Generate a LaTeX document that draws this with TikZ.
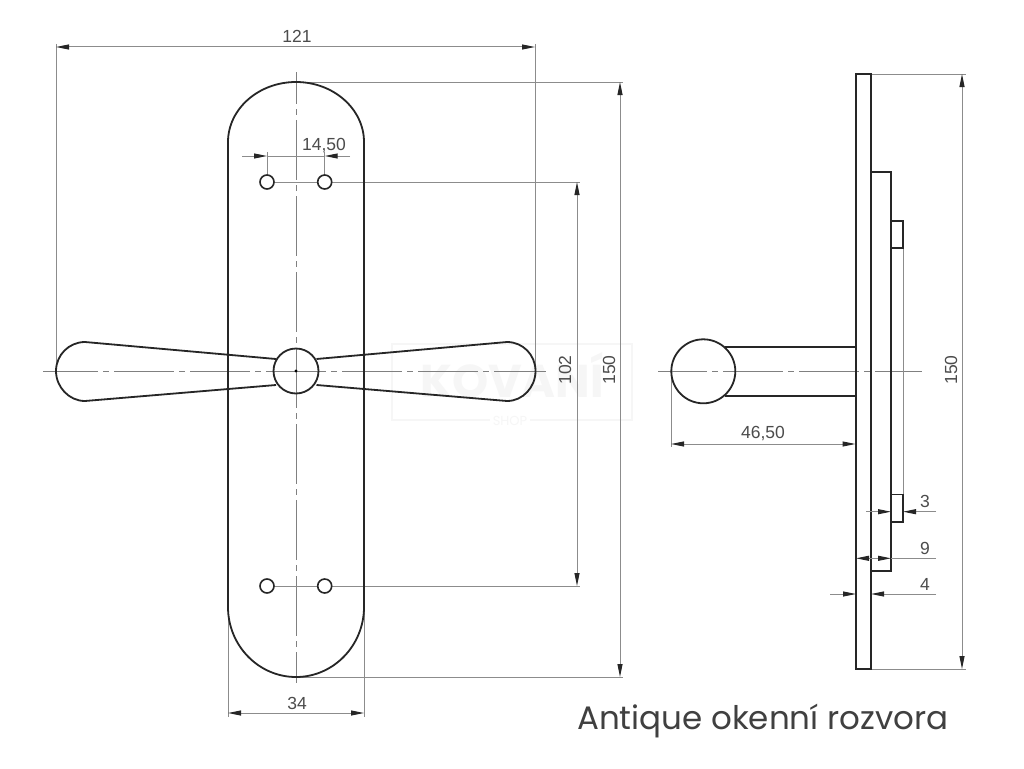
\documentclass[tikz,border=0pt]{standalone}
\usepackage{fontspec}
\setmainfont{Poppins}
\newfontfamily\dimfont{Liberation Sans}
\definecolor{dimgray}{gray}{0.55}
\definecolor{txtgray}{gray}{0.3}
\definecolor{wmark}{gray}{0.965}
\usetikzlibrary{arrows.meta}
\tikzset{
  x=1pt,y=-1pt,
  part/.style={line width=1.8pt,draw=black!85},
  ctr/.style={line width=0.9pt,draw=black!50,dash pattern=on 60pt off 5pt on 6pt off 5pt},
  dimline/.style={line width=1pt,draw=dimgray},
  tip/.style={-{Triangle[length=13pt,width=5pt,black!85]},line width=1pt,draw=dimgray},
  both/.style={{Triangle[length=13pt,width=5pt,black!85]}-{Triangle[length=13pt,width=5pt,black!85]},line width=1pt,draw=dimgray},
  lab/.style={font=\dimfont\fontsize{17.5}{18}\selectfont,text=txtgray,inner sep=0pt},
}
\begin{document}
\begin{tikzpicture}
\useasboundingbox (0,0) rectangle (1024,768);
\fill[white] (0,0) rectangle (1024,768);
% watermark
\draw[wmark,line width=2pt] (392,344) rectangle (632,420);
\node[font=\fontsize{46}{46}\selectfont\bfseries,text=wmark,inner sep=0pt] (wm) at (512,375) {KOVANÍ};
\node[font=\fontsize{13}{13}\selectfont,text=wmark,inner ysep=0pt,inner xsep=3pt,fill=white] (wms) at (510,421) {SHOP};
% centre lines
\draw[ctr,dash phase=5pt] (43,371) -- (546,371);
\draw[ctr,dash phase=28pt] (296,72) -- (296,683);
\draw[ctr,dash phase=11pt] (658,371) -- (922,371);
% extension lines front
\draw[dimline] (56,44) -- (56,371);
\draw[dimline] (535,44) -- (535,371);
\draw[dimline] (296,82) -- (623,82);
\draw[dimline] (296,677) -- (623,677);
\draw[dimline] (267,182) -- (580,182);
\draw[dimline] (267,586) -- (580,586);
\draw[dimline] (267,152) -- (267,182);
\draw[dimline] (324.7,152) -- (324.7,182);
\draw[dimline] (228,607) -- (228,717);
\draw[dimline] (364,607) -- (364,717);
% dims front
\coordinate (a1) at (56,47); \coordinate (a2) at (535,47);
\draw[both] (a1) -- (a2);
\node[lab] (t121) at (297,36) {121};
\coordinate (b1) at (620,82); \coordinate (b2) at (620,677);
\draw[both] (b1) -- (b2);
\node[lab,rotate=90] (t150a) at (609,370) {150};
\coordinate (c1) at (577,182); \coordinate (c2) at (577,586);
\draw[both] (c1) -- (c2);
\node[lab,rotate=90] (t102) at (565,370) {102};
\coordinate (d1) at (228,713); \coordinate (d2) at (364,713);
\draw[both] (d1) -- (d2);
\node[lab] (t34) at (297,703) {34};
\coordinate (e0) at (242,156); \coordinate (e1) at (267,156);
\coordinate (e2) at (324.7,156); \coordinate (e3) at (350,156);
\draw[tip] (e0) -- (e1);
\draw[dimline] (e1) -- (e2);
\draw[tip] (e3) -- (e2);
\node[lab] (t14) at (324,145.5) {14,50};
% plate
\draw[part] (228,142) .. controls (228,109) and (258.5,82) .. (296,82)
  .. controls (333.5,82) and (364,109) .. (364,142)
  -- (364,607) .. controls (364,645.5) and (333.5,677) .. (296,677)
  .. controls (258.5,677) and (228,645.5) .. (228,607) -- cycle;
% holes
\foreach \n/\hx/\hy in {h1/267/182,h2/324.7/182,h3/267/586,h4/324.7/586}
  \node[circle,draw=black!85,line width=1.6pt,fill=white,minimum size=14pt,inner sep=0pt] (\n) at (\hx,\hy) {};
% handles
\draw[part] (276,359) -- (85,342) .. controls (69,342) and (56,355) .. (56,371)
  .. controls (56,387) and (69,401) .. (85,401) -- (276,385);
\draw[part] (316.5,359) -- (507,342) .. controls (523,342) and (535.5,355) .. (535.5,371)
  .. controls (535.5,387) and (523,401) .. (507,401) -- (316.5,385);
\node[circle,draw=black!85,line width=1.8pt,minimum size=45pt,inner sep=0pt] (hub) at (296,371) {};
\fill[black] (hub.center) circle[radius=1.7];
% side view
\draw[dimline] (903,248) -- (903,494);
\draw[dimline] (871,74) -- (966,74);
\draw[dimline] (871,669) -- (966,669);
\draw[dimline] (671,371) -- (671,447);
\coordinate (f1) at (962,74); \coordinate (f2) at (962,669);
\draw[both] (f1) -- (f2);
\node[lab,rotate=90] (t150b) at (951,370) {150};
\coordinate (g1) at (671,444); \coordinate (g2) at (855.5,444);
\draw[both] (g1) -- (g2);
\node[lab] (t46) at (763,434) {46,50};
\draw[part] (725,346.7) -- (856,346.7);
\draw[part] (725,396) -- (856,396);
\node[circle,draw=black!85,line width=1.8pt,minimum size=64pt,inner sep=0pt] (knob) at (703.3,371.3) {};
\draw[part] (856,74) rectangle (871,669);
\draw[part] (871,172) rectangle (891,571);
\draw[part] (891,221) rectangle (903,248);
\draw[part] (891,494.5) rectangle (903,522);
% small dims
\coordinate (p0) at (866,511.7); \coordinate (p1) at (891,511.7);
\coordinate (p2) at (903,511.7); \coordinate (p3) at (936,511.7);
\draw[tip] (p0) -- (p1); \draw[tip] (p3) -- (p2);
\node[lab] (t3) at (925,501) {3};
\coordinate (q1) at (856,558.3); \coordinate (q2) at (891,558.3); \coordinate (q3) at (936,558.3);
\coordinate (qm) at (873.5,558.3);
\draw[tip] (qm) -- (q1); \draw[tip] (qm) -- (q2); \draw[dimline] (q2) -- (q3);
\node[lab] (t9) at (925,548) {9};
\coordinate (r0) at (830,594); \coordinate (r1) at (856,594);
\coordinate (r2) at (871,594); \coordinate (r3) at (936,594);
\draw[tip] (r0) -- (r1); \draw[tip] (r3) -- (r2); 
\node[lab] (t4) at (925,584) {4};
% title
\node[anchor=west,font=\fontsize{32.5}{34}\selectfont,text=black!75,inner sep=0pt] (title) at (577,721) {Antique okenní rozvora};
\end{tikzpicture}
\end{document}
